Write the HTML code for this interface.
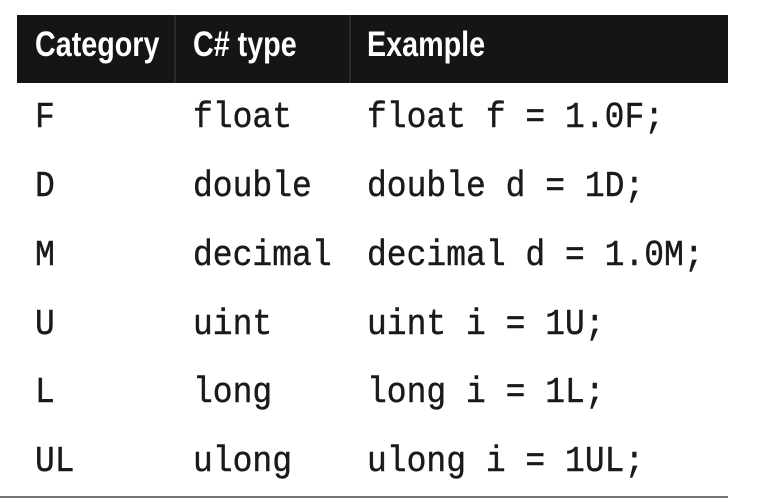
<!DOCTYPE html>
<html><head><style>
body{margin:0;width:775px;height:502px;background:#fff;position:relative;overflow:hidden}
.hd{position:absolute;left:17px;top:15px;width:711px;height:68px;background:#151515}
.sep{position:absolute;top:15px;width:2px;height:68px;background:#2a2a2a}
.h{position:absolute;top:25px;color:#fff;font:bold 35px "Liberation Sans Narrow","Liberation Sans",sans-serif;transform-origin:left top;transform:scaleX(0.82);white-space:nowrap}
.c{position:absolute;font:33px "Liberation Mono",monospace;color:#1a1a1a;-webkit-text-stroke:0.4px #1a1a1a;white-space:pre;line-height:40px;transform-origin:left center;transform:scaleY(1.1)}
.bl{position:absolute;left:0;top:496px;width:728px;height:2px;background:#777}
</style></head><body>
<div class="hd"></div>
<div class="sep" style="left:174px"></div>
<div class="sep" style="left:349px"></div>
<div class="h" style="left:35px">Category</div>
<div class="h" style="left:193px">C# type</div>
<div class="h" style="left:367px">Example</div>

<div class="c" style="left:35px;top:98px">F</div>
<div class="c" style="left:193px;top:98px">float</div>
<div class="c" style="left:367px;top:98px">float f = 1.0F;</div>

<div class="c" style="left:35px;top:167px">D</div>
<div class="c" style="left:193px;top:167px">double</div>
<div class="c" style="left:367px;top:167px">double d = 1D;</div>

<div class="c" style="left:35px;top:236px">M</div>
<div class="c" style="left:193px;top:236px">decimal</div>
<div class="c" style="left:367px;top:236px">decimal d = 1.0M;</div>

<div class="c" style="left:35px;top:305px">U</div>
<div class="c" style="left:193px;top:305px">uint</div>
<div class="c" style="left:367px;top:305px">uint i = 1U;</div>

<div class="c" style="left:35px;top:373px">L</div>
<div class="c" style="left:193px;top:373px">long</div>
<div class="c" style="left:367px;top:373px">long i = 1L;</div>

<div class="c" style="left:35px;top:442px">UL</div>
<div class="c" style="left:193px;top:442px">ulong</div>
<div class="c" style="left:367px;top:442px">ulong i = 1UL;</div>

<div class="bl"></div>
</body></html>
